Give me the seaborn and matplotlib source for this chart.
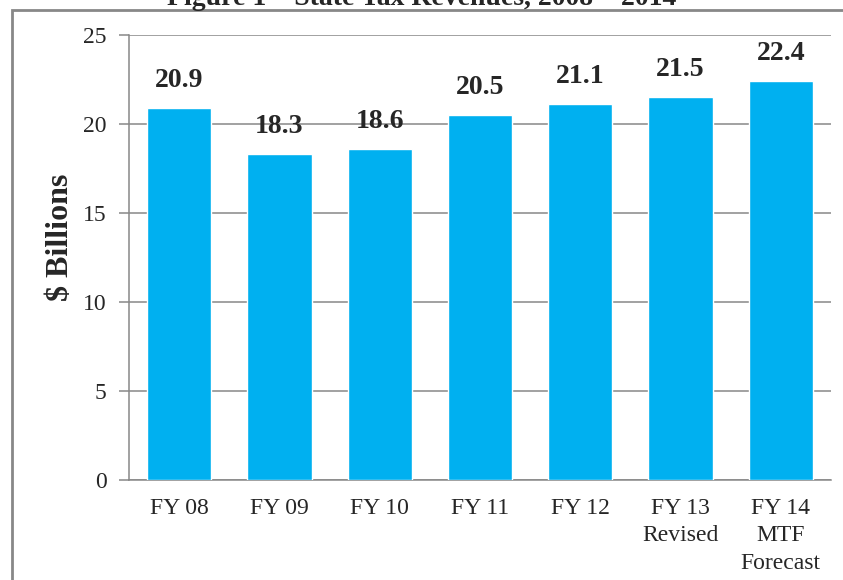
import numpy as np
import pandas as pd
import seaborn as sns
import matplotlib.pyplot as plt
from matplotlib.patches import Rectangle

years = ['FY 08', 'FY 09', 'FY 10', 'FY 11', 'FY 12', 'FY 13\nRevised', 'FY 14\nMTF\nForecast']
revenue = [20.9, 18.3, 18.6, 20.5, 21.1, 21.5, 22.4]
yticks = [0, 5, 10, 15, 20, 25]

sns.set_style('white')
plt.rcParams['font.family'] = ['Liberation Serif', 'DejaVu Serif']

df = pd.DataFrame({'year': years, 'revenue': revenue})

fig = plt.figure(figsize=(8.43, 5.8), dpi=100)
ax = fig.add_axes([129/843, 1 - 480/580, 702/843, 445/580])

sns.barplot(data=df, x='year', y='revenue', color='#00B0F0', width=0.64,
            saturation=1, ax=ax, zorder=3)

# value labels
for c in ax.containers:
    ax.bar_label(c, labels=[f'{v:.1f}' for v in revenue], padding=11,
                 fontsize=20, fontweight='bold')

ax.set_ylim(0, 25)
ax.set_yticks(yticks)
ax.set_xlim(-0.5, len(years) - 0.5)
ax.yaxis.grid(True, color='#888888', linewidth=1.1, zorder=0)
ax.set_axisbelow(True)

for s in ['top', 'right']:
    ax.spines[s].set_visible(False)
for s in ['left', 'bottom']:
    ax.spines[s].set_color('#888888')
    ax.spines[s].set_linewidth(1.1)

# ticks between categories on x, outward ticks on y
ax.set_xticks(np.arange(-0.5, len(years), 1.0), minor=True)
ax.tick_params(axis='x', which='major', length=0, pad=13, labelsize=17)
ax.tick_params(axis='x', which='minor', length=7, width=1.1, color='#888888', direction='out')
ax.tick_params(axis='y', which='major', length=7, width=1.1, color='#888888',
               direction='out', left=True, pad=9, labelsize=17)
for t in ax.get_xticklabels():
    t.set_linespacing(1.4)

ax.set_xlabel('')
ax.set_ylabel('')
fig.text(61/843, 1 - 237/580, '$ Billions', rotation=90, ha='center', va='center',
         fontsize=23, fontweight='bold')

# clipped title and frame of the original figure
fig.text(0.5, 1 - 5/580, 'Figure 1 \u2013 State Tax Revenues, 2008 \u2013 2014',
         ha='center', va='baseline', fontsize=20, fontweight='bold')
fig.patches.append(Rectangle((12/843, -0.2), 1.2, 1.2 - 10/580,
                             transform=fig.transFigure, fill=False,
                             edgecolor='#888888', linewidth=2))

fig.savefig('out.png', dpi=100)
